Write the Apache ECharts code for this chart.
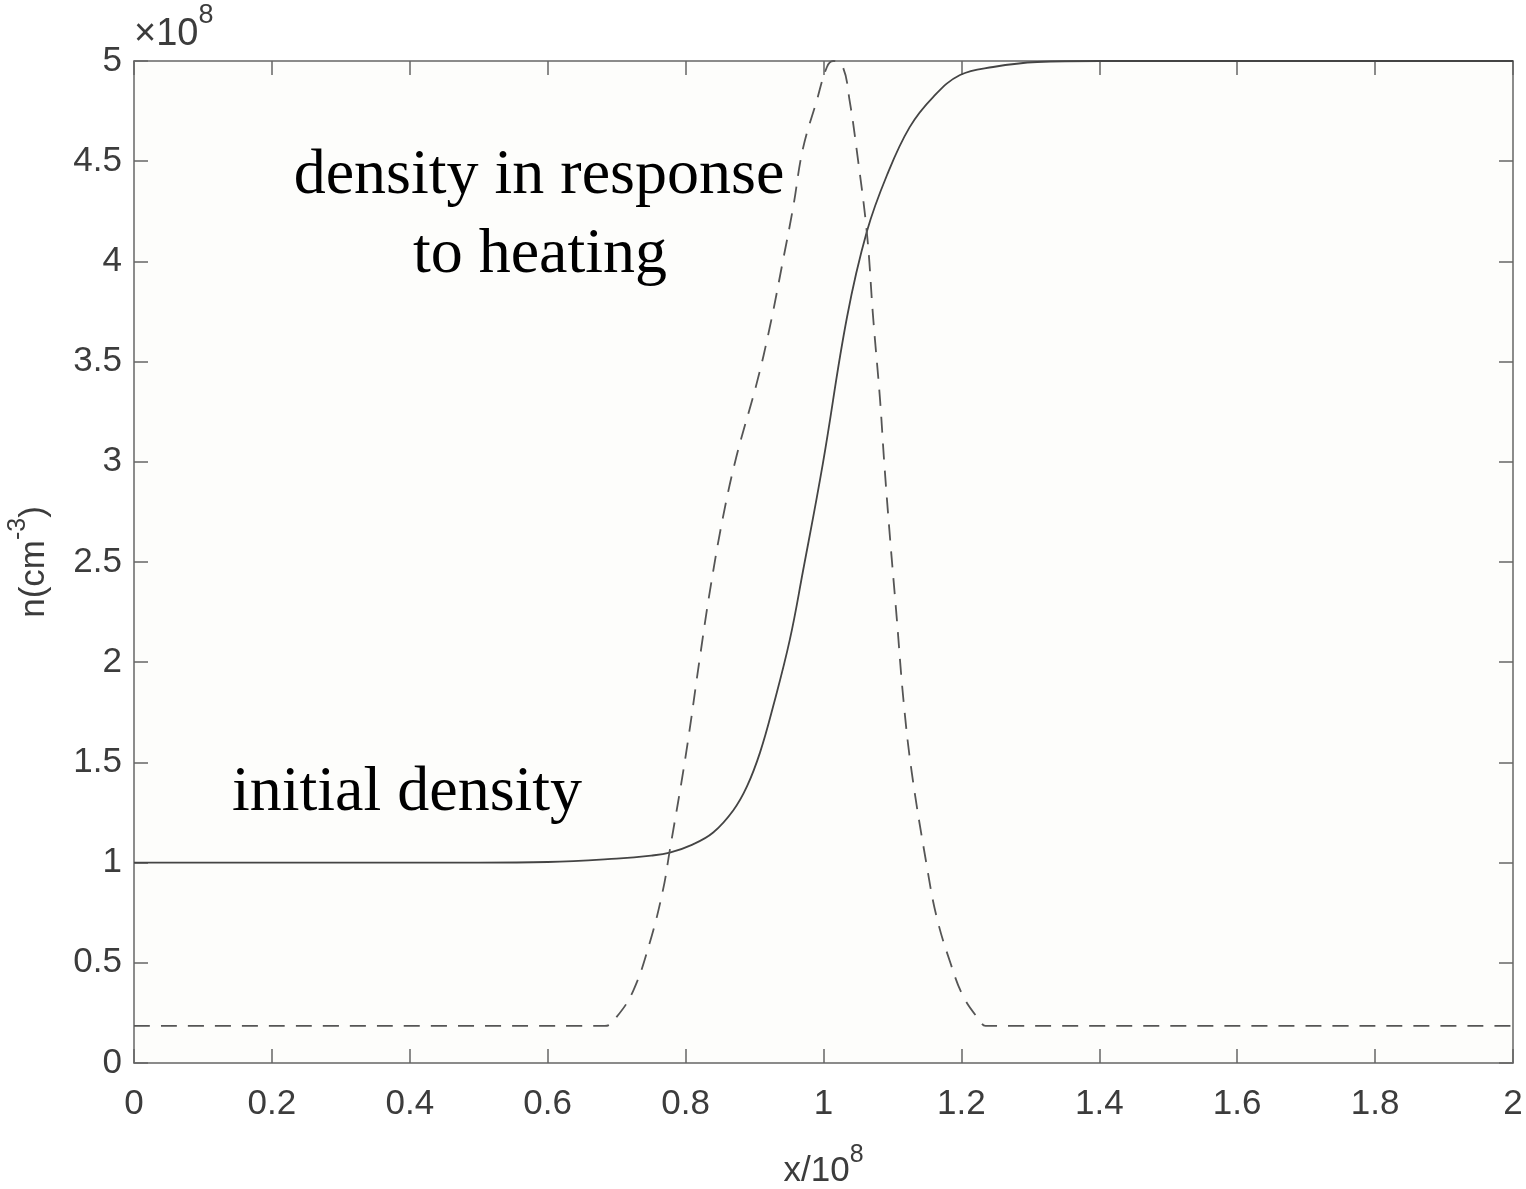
<!DOCTYPE html>
<html>
<head>
<meta charset="utf-8">
<title>density profile</title>
<script src="https://cdn.jsdelivr.net/npm/echarts@6/dist/echarts.min.js"></script>
<style>
  html, body { margin: 0; padding: 0; background: #fff; }
  #main { width: 1526px; height: 1189px; }
</style>
</head>
<body>
<div id="main"></div>
<script>
// x in units of 1e8, n in units of 1e8 cm^-3
var initialDensity = [
  [0, 1.0], [0.5, 1.0], [0.6, 1.003], [0.7, 1.02], [0.75, 1.035], [0.777, 1.05],
  [0.81, 1.09], [0.840, 1.15], [0.869, 1.26], [0.889, 1.38], [0.908, 1.55],
  [0.927, 1.78], [0.951, 2.11], [0.970, 2.45], [0.999, 2.99], [1.034, 3.72],
  [1.063, 4.15], [1.092, 4.43], [1.125, 4.67], [1.159, 4.82], [1.198, 4.93],
  [1.246, 4.97], [1.31, 4.995], [1.4, 5.0], [2, 5.0]
];
var heatedDensity = [
  [0, 0.185], [0.683, 0.185], [0.70, 0.23], [0.724, 0.36], [0.748, 0.60],
  [0.767, 0.86], [0.777, 1.06], [0.80, 1.53], [0.821, 2.03], [0.835, 2.35],
  [0.854, 2.72], [0.874, 3.03], [0.903, 3.39], [0.922, 3.67], [0.941, 4.0],
  [0.956, 4.27], [0.970, 4.56], [0.99, 4.8], [1.005, 4.97], [1.014, 5.0],
  [1.028, 4.97], [1.038, 4.8], [1.048, 4.56], [1.063, 4.14], [1.072, 3.72],
  [1.082, 3.31], [1.088, 3.0], [1.096, 2.64], [1.106, 2.23], [1.116, 1.81],
  [1.128, 1.45], [1.15, 0.98], [1.164, 0.73], [1.184, 0.50], [1.203, 0.33],
  [1.227, 0.21], [1.235, 0.185], [2, 0.185]
];
var xTicks = { min: 0, max: 2, interval: 0.2 };
var yTicks = { min: 0, max: 5, interval: 0.5 };

var axisColor = '#666';
var textColor = '#3c3c3c';
var sansFont = '"Liberation Sans", Arial, sans-serif';
var serifFont = '"Liberation Serif", "DejaVu Serif", serif';

function boxAxis(ticks, pos, showLabels) {
  return {
    type: 'value',
    position: pos,
    min: ticks.min,
    max: ticks.max,
    interval: ticks.interval,
    axisLine: { show: true, onZero: false, lineStyle: { color: axisColor, width: 1.5 } },
    axisTick: { show: true, inside: true, length: 14, lineStyle: { color: axisColor, width: 1.5 } },
    axisLabel: {
      show: showLabels,
      color: textColor,
      fontFamily: sansFont,
      fontSize: 35,
      margin: (pos === 'bottom') ? 24 : 12,
      hideOverlap: false
    },
    splitLine: { show: false }
  };
}

var supRich = {
  b: { fontFamily: sansFont, fontSize: 35, color: textColor, lineHeight: 46, verticalAlign: 'bottom' },
  s: { fontFamily: sansFont, fontSize: 25, color: textColor, lineHeight: 46, verticalAlign: 'top' }
};

var xBottom = boxAxis(xTicks, 'bottom', true);
xBottom.name = '{b|x/10}{s|8}';
xBottom.nameLocation = 'middle';
xBottom.nameGap = 80;
xBottom.nameTextStyle = { rich: supRich };

var yLeft = boxAxis(yTicks, 'left', true);
yLeft.name = '{b|n(cm}{s|-3}{b|)}';
yLeft.nameLocation = 'middle';
yLeft.nameRotate = 90;
yLeft.nameGap = 82;
yLeft.nameTextStyle = { rich: supRich };

var chart = echarts.init(document.getElementById('main'));
chart.setOption({
  backgroundColor: '#ffffff',
  animation: false,
  grid: {
    left: 134, right: 13, top: 61, bottom: 126,
    outerBoundsMode: 'none',
    containLabel: false,
    show: true, backgroundColor: '#fdfdfb', borderWidth: 0
  },
  xAxis: [xBottom, boxAxis(xTicks, 'top', false)],
  yAxis: [yLeft, boxAxis(yTicks, 'right', false)],
  series: [
    {
      name: 'initial density',
      type: 'line',
      data: initialDensity,
      smooth: 0.4,
      showSymbol: false,
      lineStyle: { color: '#444', width: 1.8 }
    },
    {
      name: 'density in response to heating',
      type: 'line',
      data: heatedDensity,
      smooth: 0.4,
      showSymbol: false,
      lineStyle: { color: '#555', width: 1.8, type: [16, 11] }
    }
  ],
  graphic: [
    {
      type: 'text', left: 134, top: 2,
      style: {
        text: '{b|×10}{s|8}',
        rich: {
          b: { fontFamily: sansFont, fontSize: 38, fill: textColor, lineHeight: 52, verticalAlign: 'bottom' },
          s: { fontFamily: sansFont, fontSize: 27, fill: textColor, lineHeight: 52, verticalAlign: 'top' }
        }
      }
    },
    {
      type: 'text', x: 539, y: 176,
      style: { text: 'density in response', font: '64px ' + serifFont, fill: '#000', align: 'center', verticalAlign: 'middle' }
    },
    {
      type: 'text', x: 540, y: 255,
      style: { text: 'to heating', font: '64px ' + serifFont, fill: '#000', align: 'center', verticalAlign: 'middle' }
    },
    {
      type: 'text', x: 407, y: 793,
      style: { text: 'initial density', font: '64px ' + serifFont, fill: '#000', align: 'center', verticalAlign: 'middle' }
    }
  ]
});
</script>
</body>
</html>
